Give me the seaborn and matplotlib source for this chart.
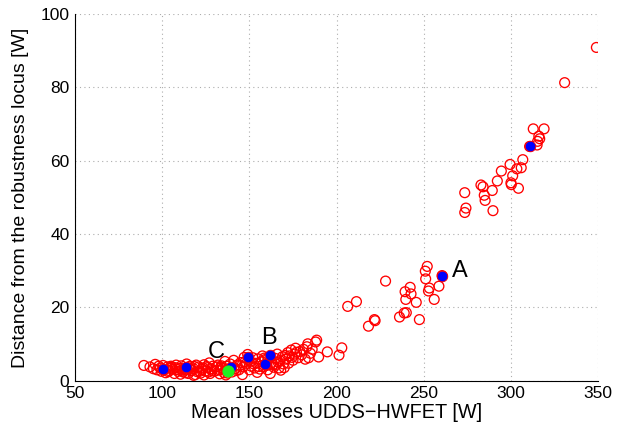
import matplotlib
matplotlib.use("Agg")
import matplotlib.pyplot as plt
import pandas as pd
import seaborn as sns

# all designs (open red circles)
losses = [
    89.5, 93, 95, 96, 97, 98, 99, 99.5, 100.5,
    102, 103, 104, 105, 106, 107, 107.5, 108, 109, 110, 110.5,
    111, 112, 113, 114, 115, 115.5, 116, 117, 118, 118, 119, 119.5, 120,
    121, 122, 123, 124, 124, 125, 126, 127, 127.5, 128, 129, 130,
    131, 132, 133, 133, 134, 135, 135.5, 136, 136.5, 137, 138, 139, 140,
    141, 142, 143, 144, 145, 146, 146.5, 147, 148, 149, 150, 150.5,
    151, 152, 153, 154, 154.5, 155, 156, 157, 157.5, 158, 159, 160, 160.5,
    161, 162, 163, 164, 165, 165.5, 166, 167, 167.5, 168, 169, 169.5, 170,
    171, 172, 172.5, 173, 174, 175, 176, 176.5, 178, 179, 180,
    181, 182, 183, 183.5, 184, 185, 186, 188, 188.6, 189.7,
    194.7, 201.4, 203, 206.4, 211.4, 218.3, 221.7, 222.1, 228.1,
    236.1, 238.8, 239.3, 239.7, 240, 242.2, 242.7, 245.7, 247.5,
    250.9, 251.1, 252, 252.7, 253.2, 256, 258.7, 260.5,
    273.5, 273.5, 274.2, 282.8, 284, 284.7, 285.2, 289.3, 289.7, 292.2, 294.5,
    299.5, 300, 300.2, 301, 303.4, 304.3, 305.9, 306.8, 310.7,
    312.8, 315, 315.3, 316, 316.5, 319, 330.8, 349,
    # extra points in the dense band
    101, 103.5, 105.5, 108.5, 111.5, 113.5, 116.5, 118.5, 121.5, 123.5,
    125.5, 128.5, 131.5, 133.5, 137.5, 139.5, 142.5, 144.5, 147.5, 152.5,
    155.5, 158.5, 163.5, 166.5, 170.5, 174.5, 177, 104.5, 112.5, 126.5,
]
distance = [
    4.2, 3.8, 3.3, 4.5, 3.0, 4.0, 3.5, 2.6, 4.2,
    2.2, 3.8, 2.8, 4.0, 3.2, 2.0, 3.6, 4.3, 2.6, 3.4, 1.8,
    4.1, 2.4, 3.0, 4.6, 2.0, 3.5, 4.0, 2.8, 3.3, 1.5, 1.7, 4.3, 2.5,
    3.8, 2.1, 3.1, 4.4, 1.6, 2.7, 3.6, 4.9, 2.0, 3.3, 4.0, 2.6,
    3.8, 4.3, 3.0, 1.9, 4.1, 3.5, 2.2, 5.3, 1.6, 4.0, 3.2, 4.6, 2.4,
    5.6, 3.3, 4.3, 3.0, 5.0, 1.7, 3.8, 6.4, 4.6, 7.2, 3.0, 5.3,
    4.0, 6.3, 3.5, 4.8, 2.3, 6.0, 3.2, 5.2, 6.8, 3.8, 5.8, 4.2, 3.0,
    6.3, 2.0, 5.0, 3.7, 6.1, 4.5, 7.3, 3.5, 5.5, 2.9, 6.6, 4.6, 3.6,
    5.9, 7.7, 4.8, 6.8, 8.4, 5.6, 7.3, 8.9, 6.3, 8.0, 7.1,
    8.6, 5.9, 9.3, 10.1, 6.3, 7.5, 8.6, 10.6, 11.1, 6.5,
    7.9, 7.0, 9.0, 20.3, 21.6, 14.9, 16.7, 16.4, 27.2,
    17.4, 18.5, 24.3, 22.2, 18.6, 25.5, 23.7, 21.4, 16.7,
    29.9, 27.8, 31.2, 24.5, 25.3, 22.2, 25.8, 28.7,
    51.3, 45.9, 47.1, 53.4, 52.9, 50.6, 49.2, 51.9, 46.4, 54.5, 57.2,
    59.0, 54.0, 53.5, 55.9, 57.8, 52.5, 58.1, 60.3, 63.9,
    68.7, 64.3, 65.3, 66.7, 66.0, 68.7, 81.3, 90.9,
    3.0, 2.5, 3.7, 3.1, 2.9, 2.2, 3.2, 3.9, 2.6, 3.5,
    3.9, 2.8, 2.9, 3.6, 2.1, 3.3, 2.8, 4.2, 5.2, 4.6,
    3.9, 6.2, 4.3, 5.1, 6.9, 6.4, 7.8, 3.4, 3.3, 2.4,
]

# selected designs (filled blue)
sel_losses = [100.7, 113.7, 139.5, 149.1, 158.7, 162.1, 260.5, 310.7]
sel_distance = [3.2, 3.9, 3.9, 6.6, 4.7, 7.1, 28.7, 63.9]

# reference design (filled green)
ref_losses = [137.7]
ref_distance = [2.7]

# labels
label_text = ["A", "B", "C"]
label_x = [266.3, 157, 126.1]
label_y = [28.3, 10.0, 6.1]

df = pd.DataFrame({"x": losses, "y": distance})
sel = pd.DataFrame({"x": sel_losses, "y": sel_distance})
ref = pd.DataFrame({"x": ref_losses, "y": ref_distance})

sns.set_style("white")
plt.rcParams['font.family'] = ['Liberation Sans', 'DejaVu Sans']
plt.rcParams['text.color'] = 'black'
plt.rcParams['axes.labelcolor'] = 'black'

fig = plt.figure(figsize=(6.25, 4.26), dpi=100)
ax = fig.add_axes([0.12, 0.106, 0.837, 0.861])

sns.scatterplot(data=df, x="x", y="y", ax=ax, marker="o", s=50,
                facecolor="none", edgecolor="red", linewidth=0.95, zorder=2)
sns.scatterplot(data=sel, x="x", y="y", ax=ax, marker="o", s=58,
                color="blue", edgecolor="red", linewidth=0.6, zorder=3)
sns.scatterplot(data=ref, x="x", y="y", ax=ax, marker="o", s=66,
                color="#22ee22", edgecolor="#22ee22", linewidth=0.6, zorder=3)

for t, x, y in zip(label_text, label_x, label_y):
    ax.text(x, y, t, fontsize=17, ha="left", va="baseline", color="black")

ax.set_xlim(50, 350)
ax.set_ylim(0, 100)
ax.set_xticks(range(50, 351, 50))
ax.set_yticks(range(0, 101, 20))
ax.grid(True, linestyle=(0, (1, 3)), color="0.68", linewidth=0.8)
ax.tick_params(direction="in", length=4, labelsize=12.5, colors="black",
               labelcolor="black", pad=4)
for s in ["top", "right"]:
    ax.spines[s].set_visible(False)
for s in ["left", "bottom"]:
    ax.spines[s].set_color("black")
    ax.spines[s].set_linewidth(0.8)

ax.set_xlabel("Mean losses UDDS\u2212HWFET [W]", fontsize=14.3, labelpad=1)
ax.set_ylabel("Distance from the robustness locus [W]", fontsize=14, labelpad=8)

fig.savefig("out.png", dpi=100)
